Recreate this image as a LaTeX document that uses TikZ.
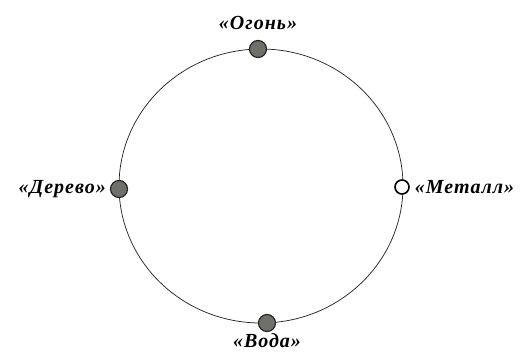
\documentclass[tikz,border=0pt]{standalone}
\usepackage{fontspec}
\setmainfont{Liberation Serif}
\usetikzlibrary{positioning}

\tikzset{every picture/.style={line width=0.75pt}}
\tikzset{
  elem/.style={circle,draw=black!85,fill={rgb,255:red,112;green,112;blue,106},minimum size=17pt,inner sep=0pt,line width=1.2pt},
  elemopen/.style={circle,draw=black,fill=white,minimum size=14pt,inner sep=0pt,line width=1.6pt},
  lbl/.style={inner sep=0.75pt,font=\fontsize{20}{24}\selectfont\bfseries\itshape\addfontfeature{LetterSpace=5}}
}

\begin{document}
\begin{tikzpicture}[x=1pt,y=1pt,yscale=-1,xscale=1]
		\useasboundingbox (0,0) rectangle (524,356);
		
		%Circle
		\draw [color={rgb, 255:red, 40; green, 40; blue, 40 }] (261,186) ellipse [x radius=142, y radius=137];
		
		%Elements on the circle
		\node [elem] (fire) at (258,49) {};
		\node [elem] (wood) at (119,189) {};
		\node [elemopen] (metal) at (402,187) {};
		\node [elem] (water) at (267,323) {};
		
		% Text Node
		\node [lbl, above=9pt of fire] (firelbl) {«Огонь»};
		% Text Node
		\node [lbl, left=3pt of wood] (woodlbl) {«Дерево»};
		% Text Node
		\node [lbl, right=4pt of metal] (metallbl) {«Металл»};
		% Text Node
		\node [lbl, below=0pt of water] (waterlbl) {«Вода»};
\end{tikzpicture}
\end{document}
